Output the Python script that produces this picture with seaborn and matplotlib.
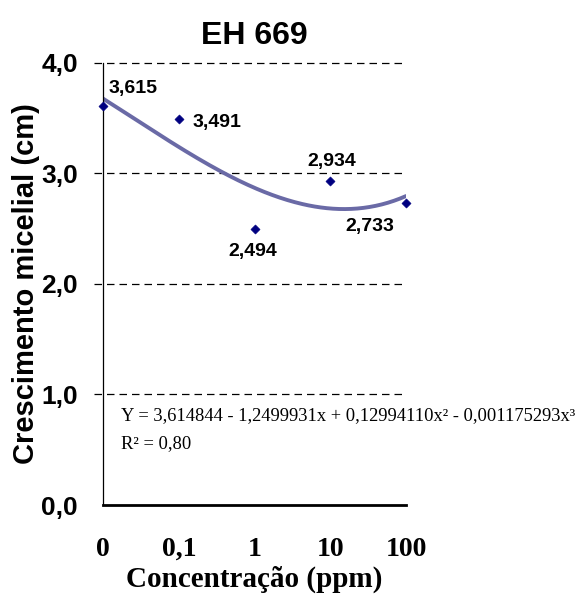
import numpy as np
import pandas as pd
import matplotlib
matplotlib.use("Agg")
import matplotlib.pyplot as plt
import seaborn as sns

categories = ["0", "0,1", "1", "10", "100"]
values = [3.615, 3.491, 2.494, 2.934, 2.733]
labels = ["3,615", "3,491", "2,494", "2,934", "2,733"]
yticks = [0.0, 1.0, 2.0, 3.0, 4.0]
ytick_labels = ["0,0", "1,0", "2,0", "3,0", "4,0"]
equation = "Y = 3,614844 - 1,2499931x + 0,12994110x² - 0,001175293x³"
r2 = "R² = 0,80"

sns.set_style("white")
plt.rcParams['font.family'] = ['Liberation Sans', 'DejaVu Sans']
plt.rcParams['text.color'] = 'black'
plt.rcParams['axes.labelcolor'] = 'black'
plt.rcParams['xtick.color'] = 'black'
plt.rcParams['ytick.color'] = 'black'
serif = ["Liberation Serif", "DejaVu Serif"]

pos = np.arange(len(categories))
df = pd.DataFrame({"pos": pos, "val": values})

# cubic trendline fitted to the data
coef = np.polyfit(pos, values, 3)
xs = np.linspace(0, len(categories) - 1, 200)
trend = pd.DataFrame({"x": xs, "y": np.polyval(coef, xs)})

fig = plt.figure(figsize=(5.84, 5.97), dpi=100)
ax = fig.add_axes([0.1764, 0.1541, 0.5188, 0.7404])

for yv in yticks[1:]:
    ax.axhline(yv, color="black", lw=0.9, ls=(0, (6, 4)), zorder=0, xmin=-0.03, clip_on=False)

sns.lineplot(data=trend, x="x", y="y", ax=ax, color="#6a6aa6", lw=2.8, zorder=2)
sns.scatterplot(data=df, x="pos", y="val", ax=ax, marker="D", color="#000080",
                s=22, edgecolor="#000080", zorder=3, clip_on=False)

offsets = [(4, 12, "left"), (10, -2, "left"), (-1, -16, "center"), (1, 14, "center"), (-26, -17, "center")]
for i, (lab, (dx, dy, ha)) in enumerate(zip(labels, offsets)):
    ax.annotate(lab, xy=(pos[i], values[i]), xytext=(dx, dy), textcoords="offset points",
                ha=ha, va="center", fontsize=14, fontweight="bold", color="black")

ax.text(0.24, 0.81, equation, fontsize=13.3, family=serif, va="center", ha="left", color="black")
ax.text(0.24, 0.56, r2, fontsize=13.3, family=serif, va="center", ha="left", color="black")

ax.set_xlim(0, 4)
ax.set_ylim(0, 4)
ax.set_xticks(pos)
ax.set_xticklabels(categories, fontsize=20, fontweight="bold", family=serif)
ax.set_yticks(yticks)
ax.set_yticklabels(ytick_labels, fontsize=19, fontweight="bold")
ax.tick_params(axis="x", direction="out", length=7, width=2, pad=16, color="black", labelcolor="black")
ax.tick_params(axis="y", direction="out", length=7, width=0.9, pad=11, color="black", labelcolor="black")

ax.set_xlabel("Concentração (ppm)", fontsize=21, fontweight="bold", family=serif, labelpad=3, color="black")
ax.set_ylabel("Crescimento micelial (cm)", fontsize=21, fontweight="bold", labelpad=1, color="black")
ax.set_title("EH 669", fontsize=23, fontweight="bold", pad=14, color="black")

sns.despine(ax=ax)
ax.spines["left"].set_linewidth(0.9)
ax.spines["bottom"].set_linewidth(2)
ax.spines["left"].set_color("black")
ax.spines["bottom"].set_color("black")

fig.savefig("out.png", dpi=100)
